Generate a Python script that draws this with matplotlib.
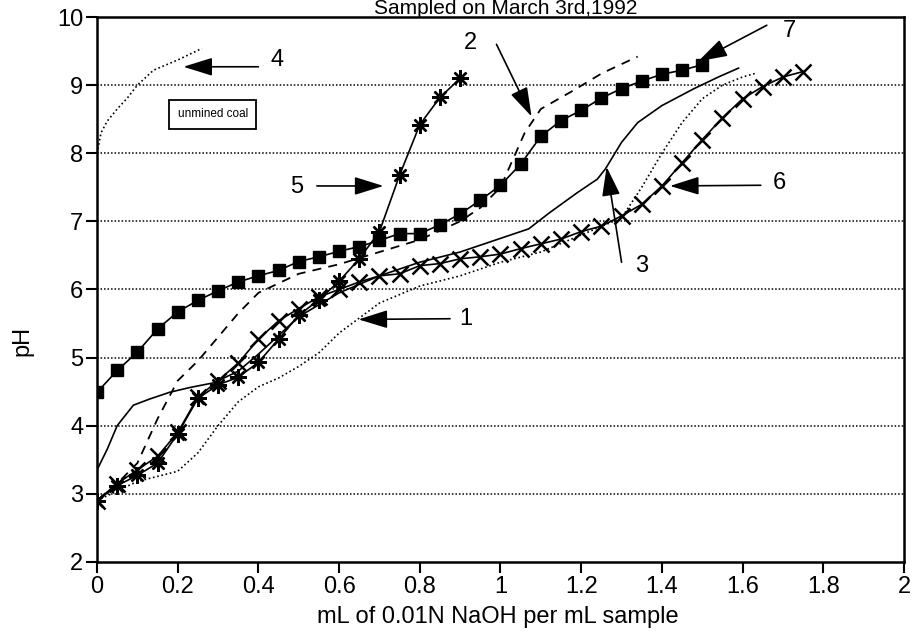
import numpy as np
import matplotlib.pyplot as plt

plt.rcParams['font.family'] = ['Liberation Sans', 'DejaVu Sans']

# titration curves, pH vs mL of 0.01N NaOH per mL sample
x1 = [0, 0.1, 0.2, 0.25, 0.3, 0.35, 0.4, 0.45, 0.5, 0.55, 0.6, 0.65, 0.7, 0.8,
      0.9, 1.0, 1.1, 1.2, 1.3, 1.35, 1.4, 1.45, 1.5, 1.55, 1.6, 1.63]
y1 = [2.9, 3.18, 3.33, 3.6, 4.0, 4.35, 4.57, 4.7, 4.87, 5.07, 5.36, 5.58, 5.8, 6.05,
      6.2, 6.4, 6.55, 6.8, 7.05, 7.5, 8.0, 8.45, 8.8, 9.0, 9.12, 9.17]

x2 = [0, 0.05, 0.1, 0.15, 0.2, 0.25, 0.3, 0.35, 0.4, 0.5, 0.6, 0.7, 0.8, 0.9,
      0.95, 1.0, 1.03, 1.06, 1.1, 1.18, 1.25, 1.34]
y2 = [2.9, 3.15, 3.45, 4.1, 4.66, 4.95, 5.3, 5.65, 5.95, 6.23, 6.37, 6.55, 6.73, 7.0,
      7.2, 7.5, 7.9, 8.3, 8.65, 8.92, 9.17, 9.42]

x3 = [0, 0.025, 0.05, 0.09, 0.13, 0.18, 0.23, 0.29, 0.35, 0.4, 0.5, 0.6, 0.7, 0.8,
      0.9, 1.0, 1.07, 1.12, 1.19, 1.24, 1.26, 1.3, 1.34, 1.4, 1.48, 1.54, 1.59]
y3 = [3.35, 3.65, 4.0, 4.3, 4.39, 4.49, 4.56, 4.63, 4.8, 5.05, 5.6, 5.95, 6.2, 6.4,
      6.55, 6.75, 6.89, 7.12, 7.42, 7.62, 7.77, 8.16, 8.45, 8.7, 8.95, 9.12, 9.25]

x4 = [0, 0.01, 0.025, 0.05, 0.075, 0.1, 0.14, 0.2, 0.26]
y4 = [8.0, 8.3, 8.47, 8.65, 8.81, 9.0, 9.22, 9.37, 9.54]

x5 = [0, 0.05, 0.1, 0.15, 0.2, 0.25, 0.3, 0.35, 0.4, 0.45, 0.5, 0.55, 0.6, 0.65,
      0.7, 0.75, 0.8, 0.85, 0.9]
y5 = [2.9, 3.12, 3.27, 3.45, 3.88, 4.4, 4.6, 4.71, 4.93, 5.27, 5.62, 5.85, 6.12, 6.45,
      6.85, 7.68, 8.42, 8.82, 9.1]

x6 = [0, 0.05, 0.1, 0.15, 0.2, 0.25, 0.3, 0.35, 0.4, 0.45, 0.5, 0.55, 0.6, 0.65,
      0.7, 0.75, 0.8, 0.85, 0.9, 0.95, 1.0, 1.05, 1.1, 1.15, 1.2, 1.25, 1.3, 1.35,
      1.4, 1.45, 1.5, 1.55, 1.6, 1.65, 1.7, 1.75]
y6 = [2.9, 3.15, 3.35, 3.55, 3.9, 4.42, 4.66, 4.92, 5.27, 5.54, 5.72, 5.89, 6.0, 6.11,
      6.2, 6.23, 6.35, 6.38, 6.45, 6.48, 6.52, 6.6, 6.67, 6.74, 6.85, 6.93, 7.08, 7.25,
      7.52, 7.86, 8.2, 8.52, 8.8, 8.98, 9.12, 9.2]

x7 = [0, 0.05, 0.1, 0.15, 0.2, 0.25, 0.3, 0.35, 0.4, 0.45, 0.5, 0.55, 0.6, 0.65,
      0.7, 0.75, 0.8, 0.85, 0.9, 0.95, 1.0, 1.05, 1.1, 1.15, 1.2, 1.25, 1.3, 1.35,
      1.4, 1.45, 1.5]
y7 = [4.49, 4.81, 5.08, 5.42, 5.67, 5.84, 5.98, 6.11, 6.2, 6.28, 6.41, 6.48, 6.56, 6.63,
      6.72, 6.82, 6.82, 6.95, 7.11, 7.31, 7.53, 7.84, 8.25, 8.48, 8.63, 8.81, 8.95, 9.06,
      9.16, 9.22, 9.3]

xticks = [0, 0.2, 0.4, 0.6, 0.8, 1, 1.2, 1.4, 1.6, 1.8, 2]
xticklabels = ['0', '0.2', '0.4', '0.6', '0.8', '1', '1.2', '1.4', '1.6', '1.8', '2']
yticks = [2, 3, 4, 5, 6, 7, 8, 9, 10]

# curve number labels: text position, arrow tail, arrow tip
labels = ['1', '2', '3', '4', '5', '6', '7']
label_xy = [(0.915, 5.56), (0.925, 9.62), (1.35, 6.35), (0.445, 9.37),
            (0.495, 7.5), (1.69, 7.56), (1.715, 9.8)]
tail_xy = [(0.875, 5.57), (0.99, 9.6), (1.3, 6.4), (0.40, 9.27),
           (0.545, 7.52), (1.645, 7.53), (1.66, 9.88)]
tip_xy = [(0.648, 5.56), (1.077, 8.54), (1.263, 7.8), (0.214, 9.27),
          (0.71, 7.52), (1.42, 7.52), (1.49, 9.35)]

fig = plt.figure(figsize=(9.17, 6.32), dpi=100)
ax = fig.add_axes([0.1058, 0.111, 0.88, 0.862])

for yv in range(3, 10):
    ax.axhline(yv, color='k', lw=1.1, ls=(0, (1, 1.3)), zorder=1)

ax.plot(x1, y1, color='k', lw=1.2, ls=(0, (1, 1.6)))
ax.plot(x2, y2, color='k', lw=1.3, ls=(0, (5, 4)))
ax.plot(x3, y3, color='k', lw=1.2)
ax.plot(x4, y4, color='k', lw=1.2, ls=(0, (1, 1.6)))
ax.plot(x5, y5, color='k', lw=1.2, marker=(8, 2, 0), ms=12, mew=1.7)
ax.plot(x6, y6, color='k', lw=1.2, marker='x', ms=11, mew=1.8)
ax.plot(x7, y7, color='k', lw=1.2, marker='s', ms=9)

for lab, lxy, txy, hxy in zip(labels, label_xy, tail_xy, tip_xy):
    ax.text(lxy[0], lxy[1], lab, fontsize=17, ha='center', va='center')
    ax.annotate('', xy=hxy, xytext=txy,
                arrowprops=dict(arrowstyle='-|>,head_length=0.9,head_width=0.28',
                                mutation_scale=20, color='k', lw=1.2,
                                shrinkA=0, shrinkB=0))

ax.text(0.287, 8.57, 'unmined coal', fontsize=8.5, ha='center', va='center',
        bbox=dict(boxstyle='square,pad=0.7', fc='white', ec='k', lw=1.3))

ax.set_xlim(0, 2)
ax.set_ylim(2, 10)
ax.set_xticks(xticks)
ax.set_xticklabels(xticklabels)
ax.set_yticks(yticks)
ax.tick_params(axis='both', direction='out', length=8, width=1.5, labelsize=17, pad=2)
for sp in ax.spines.values():
    sp.set_linewidth(1.8)

fig.text(506 / 917, 1 - 14 / 632, 'Sampled on March 3rd,1992', fontsize=15,
         ha='center', va='baseline')
fig.text(498 / 917, 1 - 623 / 632, 'mL of 0.01N NaOH per mL sample', fontsize=17,
         ha='center', va='baseline')
fig.text(22 / 917, 291 / 632, 'pH', fontsize=17, rotation=90, ha='center', va='center')

fig.savefig('out.png', dpi=100)
